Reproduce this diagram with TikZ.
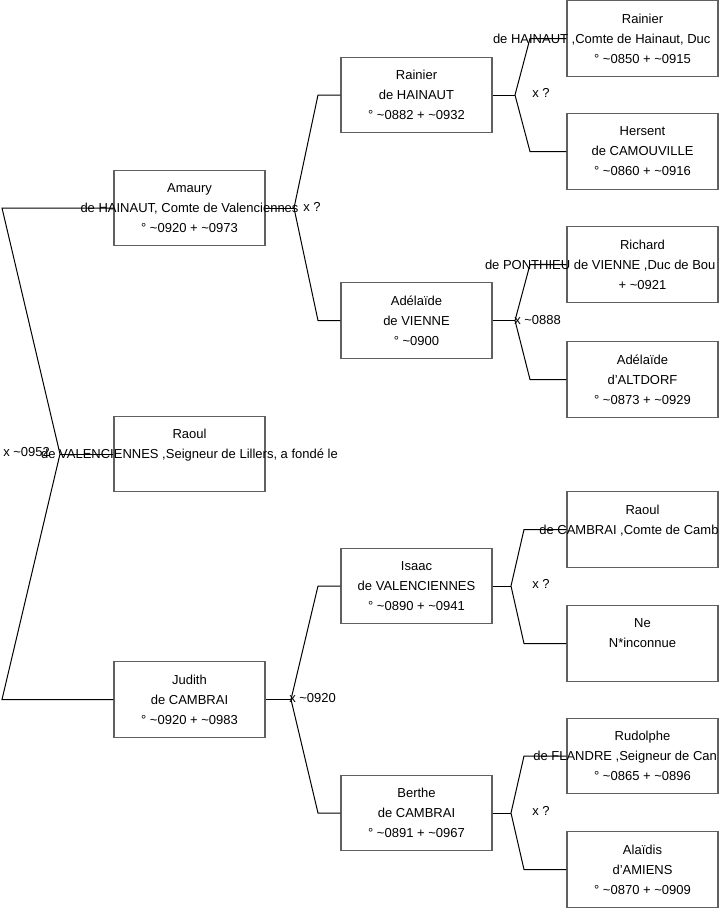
\documentclass[tikz,border=0pt]{standalone}
\usepackage{fontspec}
\setmainfont{Liberation Sans}
\newcommand{\tld}{\textasciitilde}
\begin{document}
\begin{tikzpicture}[x=0.75pt,y=-0.75pt,
  pbox/.style={draw={rgb,255:red,96;green,96;blue,96}, line width=0.9pt, minimum width=113.25pt, minimum height=56.6pt, inner sep=0pt},
  ptext/.style={align=center, inner sep=0pt, font=\fontsize{9.75pt}{15pt}\selectfont},
  conn/.style={draw=black, line width=0.75pt},
  mlabel/.style={anchor=west, inner sep=0pt, font=\fontsize{9.75pt}{15pt}\selectfont}]
\useasboundingbox (0,0) rectangle (719,908);
% boxes, generation 1
\node[pbox] (amaury) at (189.5,208) {};
\node[pbox] (raoulA) at (189.5,454) {};
\node[pbox] (judith) at (189.5,699.5) {};
% generation 2
\node[pbox] (rainierB) at (416.5,95) {};
\node[pbox] (adelaideB) at (416.5,320.5) {};
\node[pbox] (isaac) at (416.5,586) {};
\node[pbox] (berthe) at (416.5,813) {};
% generation 3
\node[pbox] (rainierC) at (642.5,38.5) {};
\node[pbox] (hersent) at (642.5,151.5) {};
\node[pbox] (richard) at (642.5,264.5) {};
\node[pbox] (adelaideC) at (642.5,379.5) {};
\node[pbox] (raoulC) at (642.5,529.5) {};
\node[pbox] (ne) at (642.5,643.5) {};
\node[pbox] (rudolphe) at (642.5,756) {};
\node[pbox] (alaidis) at (642.5,869.5) {};
% connectors
\coordinate (v0) at (60,454);
\coordinate (v0a) at (2,208);
\coordinate (v0b) at (2,699.5);
\draw[conn] (amaury.west) -- (v0a) -- (v0) -- (v0b) -- (judith.west);
\draw[conn] (v0) -- (raoulA.west);
\coordinate (v1) at (294,208);
\coordinate (v1a) at (318,95);
\coordinate (v1b) at (318,320.5);
\draw[conn] (rainierB.west) -- (v1a) -- (v1) -- (v1b) -- (adelaideB.west);
\draw[conn] (amaury.east) -- (v1);
\coordinate (v2) at (291,699.5);
\coordinate (v2a) at (318,586);
\coordinate (v2b) at (318,813);
\draw[conn] (isaac.west) -- (v2a) -- (v2) -- (v2b) -- (berthe.west);
\draw[conn] (judith.east) -- (v2);
\coordinate (v3) at (515,95);
\coordinate (v3a) at (530,38.5);
\coordinate (v3b) at (530,151.5);
\draw[conn] (rainierC.west) -- (v3a) -- (v3) -- (v3b) -- (hersent.west);
\draw[conn] (rainierB.east) -- (v3);
\coordinate (v4) at (515,320.5);
\coordinate (v4a) at (530,264.5);
\coordinate (v4b) at (530,379.5);
\draw[conn] (richard.west) -- (v4a) -- (v4) -- (v4b) -- (adelaideC.west);
\draw[conn] (adelaideB.east) -- (v4);
\coordinate (v5) at (511,586);
\coordinate (v5a) at (524,529.5);
\coordinate (v5b) at (524,643.5);
\draw[conn] (raoulC.west) -- (v5a) -- (v5) -- (v5b) -- (ne.west);
\draw[conn] (isaac.east) -- (v5);
\coordinate (v6) at (511,813);
\coordinate (v6a) at (524,756);
\coordinate (v6b) at (524,869.5);
\draw[conn] (rudolphe.west) -- (v6a) -- (v6) -- (v6b) -- (alaidis.west);
\draw[conn] (berthe.east) -- (v6);
% marriage labels
\node[mlabel] (m0) at (3,452) {x \tld0952};
\node[mlabel] (m1) at (303,207) {x ?};
\node[mlabel] (m2) at (289,698) {x \tld0920};
\node[mlabel] (m3) at (532,93) {x ?};
\node[mlabel] (m4) at (514,320) {x \tld0888};
\node[mlabel] (m5) at (532,584) {x ?};
\node[mlabel] (m6) at (532,811) {x ?};
% box texts
\node[ptext] (amaury-t) at (amaury) {Amaury\\de HAINAUT, Comte de Valenciennes\\° \tld0920 + \tld0973};
\node[ptext] (raoulA-t) at (raoulA) {Raoul\\de VALENCIENNES ,Seigneur de Lillers, a fondé le\\\mbox{}};
\node[ptext] (judith-t) at (judith) {Judith\\de CAMBRAI\\° \tld0920 + \tld0983};
\node[ptext] (rainierB-t) at (rainierB) {Rainier\\de HAINAUT\\° \tld0882 + \tld0932};
\node[ptext] (adelaideB-t) at (adelaideB) {Adélaïde\\de VIENNE\\° \tld0900};
\node[ptext] (isaac-t) at (isaac) {Isaac\\de VALENCIENNES\\° \tld0890 + \tld0941};
\node[ptext] (berthe-t) at (berthe) {Berthe\\de CAMBRAI\\° \tld0891 + \tld0967};
\node[ptext] (rainierC-t) at (rainierC) {Rainier\\\makebox[224.25pt][l]{de HAINAUT ,Comte de Hainaut, Duc}\\° \tld0850 + \tld0915};
\node[ptext] (hersent-t) at (hersent) {Hersent\\de CAMOUVILLE\\° \tld0860 + \tld0916};
\node[ptext] (richard-t) at (richard) {Richard\\\makebox[236.25pt][l]{de PONTHIEU de VIENNE ,Duc de Bou}\\+ \tld0921};
\node[ptext] (adelaideC-t) at (adelaideC) {Adélaïde\\d'ALTDORF\\° \tld0873 + \tld0929};
\node[ptext] (raoulC-t) at (raoulC) {Raoul\\\makebox[154.75pt][l]{de CAMBRAI ,Comte de Camb}\\\mbox{}};
\node[ptext] (ne-t) at (ne) {Ne\\N*inconnue\\\mbox{}};
\node[ptext] (rudolphe-t) at (rudolphe) {Rudolphe\\\makebox[163.75pt][l]{de FLANDRE ,Seigneur de Can}\\° \tld0865 + \tld0896};
\node[ptext] (alaidis-t) at (alaidis) {Alaïdis\\d'AMIENS\\° \tld0870 + \tld0909};
\end{tikzpicture}
\end{document}
